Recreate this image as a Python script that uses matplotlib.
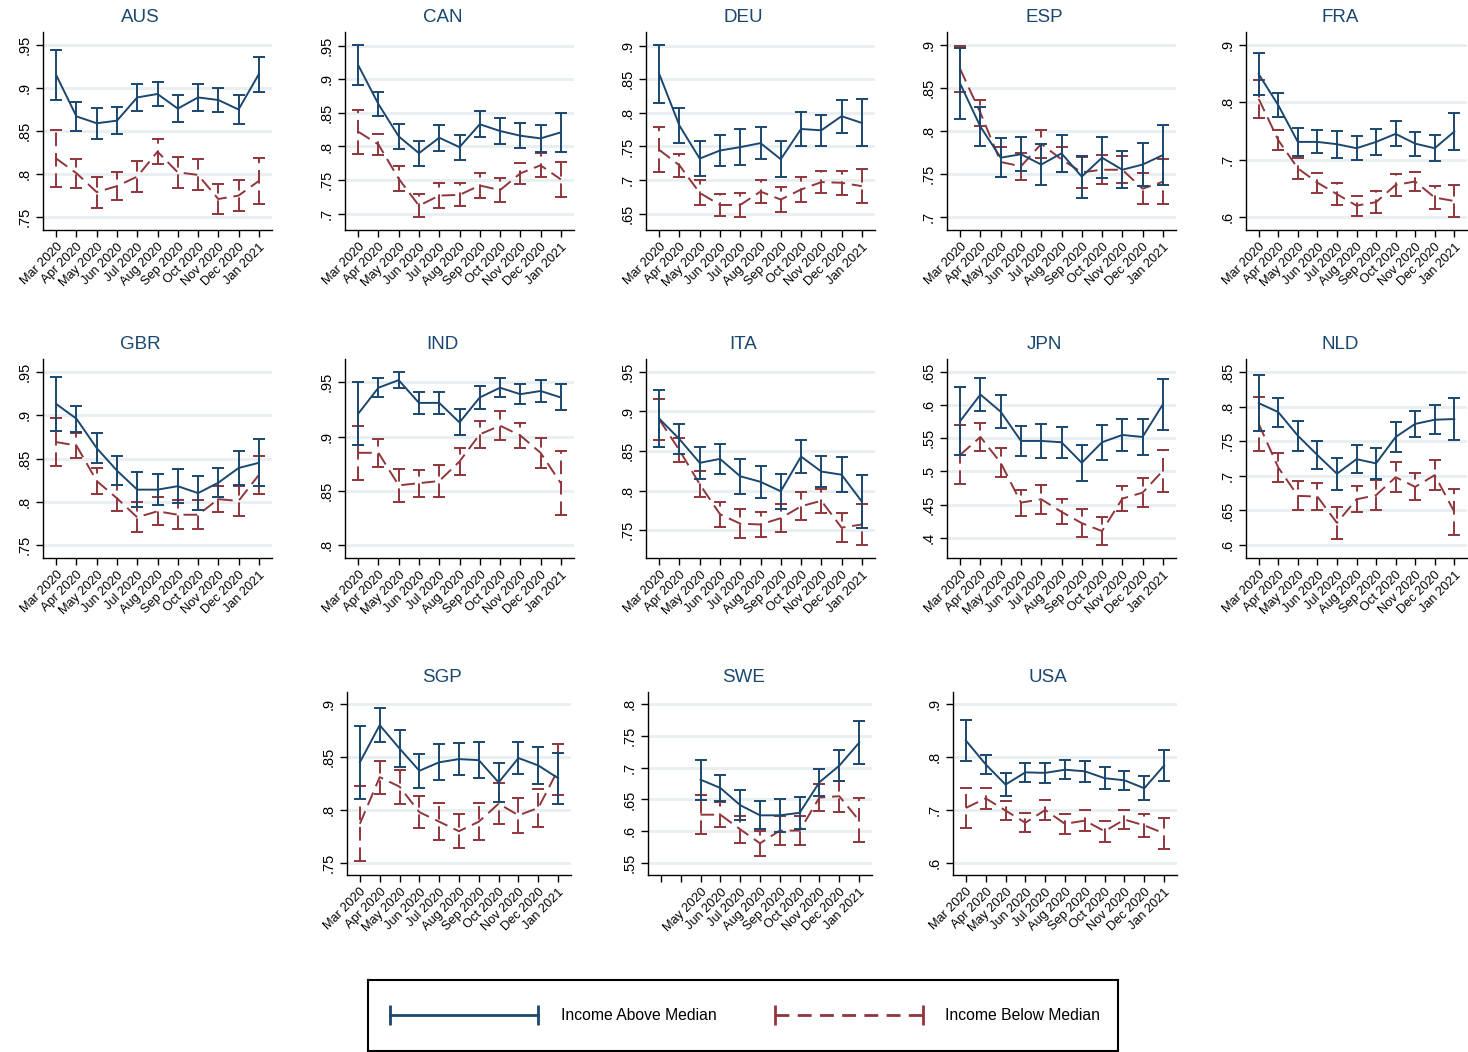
import numpy as np
import matplotlib
matplotlib.use('Agg')
import matplotlib.pyplot as plt
from matplotlib.lines import Line2D

plt.rcParams['font.family'] = ['Liberation Sans', 'DejaVu Sans']

nan = np.nan
months = ['Mar 2020', 'Apr 2020', 'May 2020', 'Jun 2020', 'Jul 2020', 'Aug 2020',
          'Sep 2020', 'Oct 2020', 'Nov 2020', 'Dec 2020', 'Jan 2021']

# mean share and 95% CI half-width, above / below median income
aus_above = [.915, .867, .859, .862, .889, .893, .876, .889, .886, .875, .916]
aus_above_ci = [.029, .017, .018, .0155, .0155, .0135, .016, .0155, .014, .017, .0205]
aus_below = [.818, .801, .779, .786, .797, .826, .802, .799, .771, .775, .792]
aus_below_ci = [.033, .017, .018, .016, .018, .0145, .018, .018, .017, .0185, .027]
aus_ticks = [.75, .8, .85, .9, .95]

can_above = [.921, .863, .815, .790, .813, .799, .833, .823, .816, .812, .821]
can_above_ci = [.030, .0175, .019, .0185, .019, .0185, .0195, .020, .0185, .020, .0295]
can_below = [.822, .803, .752, .712, .727, .728, .742, .735, .760, .772, .751]
can_below_ci = [.0325, .016, .0185, .017, .019, .017, .018, .018, .016, .018, .026]
can_ticks = [.7, .75, .8, .85, .9, .95]

deu_above = [.858, .781, .732, .744, .749, .755, .731, .776, .774, .795, .785]
deu_above_ci = [.043, .0255, .026, .0235, .0265, .0235, .0265, .025, .023, .0245, .035]
deu_below = [.745, .722, .681, .663, .663, .683, .671, .686, .697, .696, .691]
deu_below_ci = [.0335, .017, .0185, .017, .018, .017, .0185, .018, .016, .018, .025]
deu_ticks = [.65, .7, .75, .8, .85, .9]

esp_above = [.855, .805, .769, .773, .761, .774, .747, .769, .755, .761, .772]
esp_above_ci = [.0415, .0225, .023, .020, .0235, .0215, .0245, .0235, .0215, .0245, .0345]
esp_below = [.872, .821, .764, .759, .785, .767, .752, .755, .755, .733, .741]
esp_below_ci = [.0265, .015, .017, .0155, .0165, .0145, .018, .017, .0155, .018, .026]
esp_ticks = [.7, .75, .8, .85, .9]

fra_above = [.849, .795, .731, .731, .727, .720, .731, .745, .728, .720, .749]
fra_above_ci = [.037, .021, .0245, .020, .0235, .0205, .0225, .022, .021, .023, .0325]
fra_below = [.806, .734, .685, .660, .640, .620, .626, .656, .662, .634, .628]
fra_below_ci = [.0325, .0175, .0185, .0175, .0195, .0175, .019, .019, .017, .0195, .0275]
fra_ticks = [.6, .7, .8, .9]

gbr_above = [.913, .896, .862, .836, .814, .814, .818, .810, .822, .839, .845]
gbr_above_ci = [.031, .015, .0175, .0165, .020, .018, .020, .020, .0165, .0195, .027]
gbr_below = [.869, .865, .824, .804, .782, .789, .785, .785, .803, .801, .831]
gbr_below_ci = [.0275, .0145, .0155, .015, .0175, .016, .017, .017, .015, .017, .022]
gbr_ticks = [.75, .8, .85, .9, .95]

ind_above = [.921, .945, .952, .931, .931, .913, .936, .945, .939, .942, .936]
ind_above_ci = [.029, .009, .0075, .010, .0105, .012, .0105, .0085, .009, .0105, .012]
ind_below = [.885, .885, .855, .857, .859, .877, .902, .910, .901, .885, .857]
ind_below_ci = [.025, .013, .0155, .0125, .0145, .012, .0125, .0135, .0115, .014, .0295]
ind_ticks = [.8, .85, .9, .95]

ita_above = [.891, .865, .835, .840, .818, .811, .799, .843, .824, .820, .786]
ita_above_ci = [.0365, .019, .0205, .0185, .022, .020, .022, .021, .0195, .022, .0335]
ita_below = [.890, .851, .808, .770, .758, .757, .765, .780, .787, .753, .757]
ita_below_ci = [.026, .015, .0165, .016, .018, .016, .0175, .0175, .0155, .018, .026]
ita_ticks = [.75, .8, .85, .9, .95]

jpn_above = [.576, .616, .590, .546, .546, .544, .513, .544, .555, .552, .601]
jpn_above_ci = [.0515, .025, .025, .023, .025, .023, .027, .0265, .0235, .027, .0385]
jpn_below = [.525, .552, .513, .453, .458, .439, .422, .410, .459, .468, .501]
jpn_below_ci = [.0445, .021, .022, .0195, .0215, .019, .021, .021, .019, .022, .032]
jpn_ticks = [.4, .45, .5, .55, .6, .65]

nld_above = [.805, .792, .758, .730, .703, .724, .718, .756, .775, .781, .782]
nld_above_ci = [.040, .021, .0215, .020, .023, .020, .0225, .022, .019, .021, .0305]
nld_below = [.775, .712, .671, .670, .632, .666, .672, .698, .684, .701, .648]
nld_below_ci = [.039, .021, .021, .0195, .0235, .019, .022, .0215, .0195, .0215, .0335]
nld_ticks = [.6, .65, .7, .75, .8, .85]

sgp_above = [.845, .880, .858, .837, .845, .848, .847, .826, .849, .842, .830]
sgp_above_ci = [.0345, .016, .0175, .016, .017, .015, .017, .0185, .0155, .0175, .024]
sgp_below = [.787, .831, .822, .798, .789, .780, .789, .806, .795, .802, .838]
sgp_below_ci = [.0355, .0155, .016, .015, .0175, .016, .0175, .019, .0165, .018, .024]
sgp_ticks = [.75, .8, .85, .9]

swe_above = [nan, nan, .681, .668, .641, .625, .625, .629, .677, .703, .739]
swe_above_ci = [nan, nan, .0315, .0205, .024, .022, .0255, .0255, .0215, .0245, .0335]
swe_below = [nan, nan, .626, .626, .603, .581, .601, .601, .653, .655, .617]
swe_below_ci = [nan, nan, .031, .0195, .021, .020, .0225, .023, .0205, .0245, .0345]
swe_ticks = [.55, .6, .65, .7, .75, .8]

usa_above = [.831, .786, .748, .771, .770, .776, .773, .760, .756, .741, .784]
usa_above_ci = [.039, .018, .021, .018, .019, .0175, .020, .0205, .0185, .023, .0295]
usa_below = [.704, .722, .699, .676, .700, .674, .680, .660, .682, .671, .656]
usa_below_ci = [.038, .0195, .0185, .018, .0195, .0185, .020, .020, .0175, .0215, .0295]
usa_ticks = [.6, .7, .8, .9]

navy = '#1a476f'
maroon = '#90353b'
gridc = '#e8eff1'
dash = (0, (7, 3.5))

W, H = 1468, 1052
fig = plt.figure(figsize=(W / 100, H / 100), dpi=100)

# pixel boxes: rows are (top, bottom), cols are left edges
row1 = (32, 230)
row2 = (359, 558)
row3 = (692, 875)
cols = [43, 345, 646, 947, 1246]
cols3 = [347, 648, 953]

panels = [
    ('AUS', aus_above, aus_above_ci, aus_below, aus_below_ci, aus_ticks, cols[0], row1, 229),
    ('CAN', can_above, can_above_ci, can_below, can_below_ci, can_ticks, cols[1], row1, 229),
    ('DEU', deu_above, deu_above_ci, deu_below, deu_below_ci, deu_ticks, cols[2], row1, 229),
    ('ESP', esp_above, esp_above_ci, esp_below, esp_below_ci, esp_ticks, cols[3], row1, 229),
    ('FRA', fra_above, fra_above_ci, fra_below, fra_below_ci, fra_ticks, cols[4], row1, 221),
    ('GBR', gbr_above, gbr_above_ci, gbr_below, gbr_below_ci, gbr_ticks, cols[0], row2, 229),
    ('IND', ind_above, ind_above_ci, ind_below, ind_below_ci, ind_ticks, cols[1], row2, 229),
    ('ITA', ita_above, ita_above_ci, ita_below, ita_below_ci, ita_ticks, cols[2], row2, 229),
    ('JPN', jpn_above, jpn_above_ci, jpn_below, jpn_below_ci, jpn_ticks, cols[3], row2, 229),
    ('NLD', nld_above, nld_above_ci, nld_below, nld_below_ci, nld_ticks, cols[4], row2, 221),
    ('SGP', sgp_above, sgp_above_ci, sgp_below, sgp_below_ci, sgp_ticks, cols3[0], row3, 224),
    ('SWE', swe_above, swe_above_ci, swe_below, swe_below_ci, swe_ticks, cols3[1], row3, 224),
    ('USA', usa_above, usa_above_ci, usa_below, usa_below_ci, usa_ticks, cols3[2], row3, 224),
]

x = np.arange(1, len(months) + 1)

for name, ab, abci, be, beci, ticks, left, (top, bot), wid in panels:
    ax = fig.add_axes([left / W, 1 - bot / H, wid / W, (bot - top) / H])
    ab, abci, be, beci = map(np.array, (ab, abci, be, beci))

    for t in ticks:
        ax.axhline(t, color=gridc, lw=2, zorder=0)

    e1 = ax.errorbar(x, be, yerr=beci, color=maroon, lw=1.4, capsize=4,
                     capthick=1.4, elinewidth=1.4, zorder=2)
    e1[0].set_linestyle(dash)
    e1[2][0].set_linestyle(dash)
    ax.errorbar(x, ab, yerr=abci, color=navy, lw=1.4, capsize=4,
                capthick=1.4, elinewidth=1.4, zorder=3)

    lo = min(ticks[0], np.nanmin(ab - abci), np.nanmin(be - beci))
    hi = max(ticks[-1], np.nanmax(ab + abci), np.nanmax(be + beci))
    pad = 0.075 * (hi - lo)
    ax.set_ylim(lo - pad, hi + pad)
    ax.set_xlim(0.35, 11.65)

    ax.set_yticks(ticks)
    ax.set_yticklabels([('%g' % t).lstrip('0') for t in ticks], rotation=90,
                       va='center', fontsize=10.5)
    ax.set_xticks(x)
    labels = [m if not np.isnan(a) else '' for m, a in zip(months, ab)]
    ax.set_xticklabels(labels, rotation=45, ha='right', rotation_mode='anchor',
                       fontsize=9.2)
    ax.tick_params(length=5, width=1, color='black')
    ax.tick_params(axis='x', pad=3)

    for s in ['top', 'right']:
        ax.spines[s].set_visible(False)
    for s in ['left', 'bottom']:
        ax.spines[s].set_linewidth(1)

    ax.set_title(name, color=navy, fontsize=13.5, x=0.425, pad=7)

# legend in its own framed box
lax = fig.add_axes([368 / W, 1 / H, 750 / W, 71 / H])
lax.set_xticks([])
lax.set_yticks([])
for s in lax.spines.values():
    s.set_linewidth(1.5)
    s.set_color('black')

handles = [
    Line2D([], [], color=navy, lw=2, marker='|', markersize=15, mew=2),
    Line2D([], [], color=maroon, lw=2, ls=(0, (5, 3)), marker='|', markersize=15, mew=2),
]
lax.legend(handles, ['Income Above Median', 'Income Below Median'],
           loc='center', ncol=2, numpoints=2, handlelength=10, handletextpad=1.15,
           columnspacing=3.45, frameon=False, borderpad=0, fontsize=11.3)

fig.savefig('out.png', dpi=100)
